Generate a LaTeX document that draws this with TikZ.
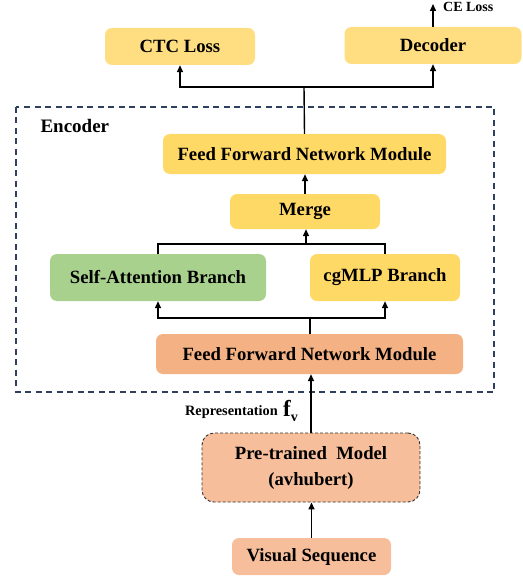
\documentclass[tikz,border=0pt]{standalone}
\usepackage{fontspec}
\setmainfont{Liberation Serif}
\usetikzlibrary{arrows.meta}
\definecolor{lyel}{HTML}{FFDE82}
\definecolor{yel}{HTML}{FFD966}
\definecolor{grn}{HTML}{A9D18E}
\definecolor{org}{HTML}{F4B183}
\definecolor{lorg}{HTML}{F6BE9A}
\definecolor{navy}{HTML}{2F3F5F}
\tikzset{
  box/.style={rectangle, rounded corners=7pt, draw=none, inner sep=0pt,
    font=\fontsize{18.7}{22}\selectfont\bfseries, align=center},
  conn/.style={line width=1.4pt, black},
  arr/.style={conn, -{Triangle[length=7pt,width=6pt]}},
}
\begin{document}
\begin{tikzpicture}[x=1pt,y=-1pt]
\useasboundingbox (0,0) rectangle (522,580);
% encoder frame
\draw[navy, line width=1.4pt, dash pattern=on 6pt off 4.5pt] (16,107) rectangle (494,392);
\node[anchor=base west, font=\fontsize{19}{22}\selectfont\bfseries] (enc) at (37,133) {Encoder};
% nodes
\node[box, fill=lyel, minimum width=150pt, minimum height=37pt] (ctc) at (180,46.5) {CTC Loss};
\node[box, fill=lyel, minimum width=177pt, minimum height=37pt] (dec) at (433,45.5) {Decoder};
\node[box, fill=yel, minimum width=283pt, minimum height=40pt] (ffn1) at (304.5,154) {Feed Forward Network Module};
\node[box, fill=yel, minimum width=150pt, minimum height=35pt] (merge) at (305,211.5) {Merge};
\node[box, fill=grn, minimum width=216pt, minimum height=47pt] (sa) at (158,277.5) {Self-Attention Branch};
\node[box, fill=yel, minimum width=150pt, minimum height=47pt] (cg) at (385,277.5) {cgMLP Branch};
\node[box, fill=org, minimum width=307pt, minimum height=40pt] (ffn2) at (309.5,354) {Feed Forward Network Module};
\node[box, fill=lorg, minimum width=218pt, minimum height=69pt, rounded corners=12pt,
  draw=black!80, line width=0.9pt, dash pattern=on 3pt off 2pt,
  font=\fontsize{18.7}{26}\selectfont\bfseries] (pre) at (311,467.5) {Pre-trained\ \ Model\\(avhubert)};
\node[box, fill=lorg, minimum width=159pt, minimum height=37pt] (vis) at (311.5,556.5) {Visual Sequence};
% labels
\node[anchor=base west, font=\fontsize{14}{16}\selectfont\bfseries, inner sep=0pt] (celab) at (443,12) {CE Loss};
\node[anchor=base east, font=\fontsize{14.3}{16}\selectfont\bfseries, inner sep=0pt] (rep) at (278,415) {Representation};
\node[anchor=base west, inner sep=0pt] (fv) at (283,416) {{\fontsize{23}{24}\selectfont\bfseries f}\raisebox{-5pt}{\fontsize{14}{16}\selectfont\bfseries v}};
% connectors
\coordinate (s1) at (304,87);
\coordinate (ce) at (433,4);
\coordinate (m1) at (306,244);
\coordinate (s2) at (310,318);
\draw[conn] (ffn1.north) -- (s1);
\draw[arr] (s1) -| (ctc.south);
\draw[arr] (s1) -| (dec.south);
\draw[arr] (dec.north) -- (ce);
\draw[arr] (merge.north) -- (merge.north |- ffn1.south);
\draw[conn] (sa.north) |- (m1) -| (cg.north);
\draw[arr] (m1) -- (m1 |- merge.south);
\draw[conn] (s2 |- ffn2.north) -- (s2);
\draw[arr] (s2) -| (sa.south);
\draw[arr] (s2) -| (cg.south);
\draw[arr] (pre.north) -- (pre.north |- ffn2.south);
\draw[arr] (vis.north) -- (vis.north |- pre.south);
\end{tikzpicture}
\end{document}
